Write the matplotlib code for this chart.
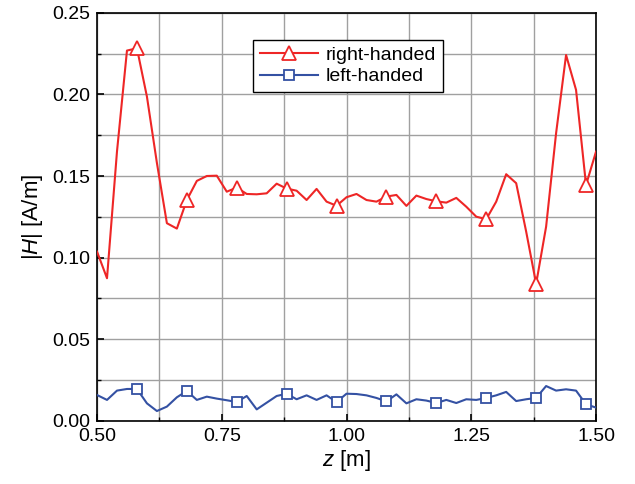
import matplotlib

matplotlib.use("Agg")

import matplotlib.pyplot as plt
import numpy as np
from matplotlib.ticker import FormatStrFormatter, MultipleLocator

plt.rcParams["font.family"] = ["Liberation Sans", "DejaVu Sans"]
plt.rcParams["mathtext.fontset"] = "custom"
plt.rcParams["mathtext.rm"] = "Liberation Sans"
plt.rcParams["mathtext.it"] = "Liberation Sans:italic"

# sampled positions along z, every 0.02 m
z = np.round(np.arange(0.50, 1.5001, 0.02), 2)

right_handed = [
    0.1037, 0.0874, 0.165, 0.2268, 0.2282, 0.1986, 0.158, 0.1211, 0.1178, 0.1353,
    0.1470, 0.1500, 0.1502, 0.1404, 0.1429, 0.1390, 0.1388, 0.1394, 0.1453, 0.1423,
    0.1410, 0.1353, 0.1421, 0.1343, 0.1318, 0.1370, 0.1390, 0.1353, 0.1343, 0.1374,
    0.1384, 0.1317, 0.1380, 0.1359, 0.1345, 0.1337, 0.1366, 0.1312, 0.1251, 0.1235,
    0.1343, 0.1511, 0.1456, 0.116, 0.0840, 0.119, 0.1762, 0.2241, 0.2027, 0.1445,
    0.1649,
]

left_handed = [
    0.0159, 0.0129, 0.0186, 0.0196, 0.0196, 0.0108, 0.0061, 0.0088, 0.0145, 0.0184,
    0.0129, 0.0149, 0.0137, 0.0127, 0.0116, 0.0153, 0.0071, 0.0112, 0.0153, 0.0167,
    0.0133, 0.0157, 0.0129, 0.0157, 0.0116, 0.0167, 0.0165, 0.0157, 0.0141, 0.0120,
    0.0163, 0.0108, 0.0133, 0.0125, 0.0110, 0.0129, 0.0110, 0.0133, 0.0129, 0.0141,
    0.0157, 0.0178, 0.0122, 0.0133, 0.0141, 0.0214, 0.0186, 0.0194, 0.0186, 0.0102,
    0.0082,
]

RED = "#ee2626"
BLUE = "#3451a3"

fig = plt.figure(figsize=(6.35, 4.84), dpi=100)
ax = fig.add_axes([0.1528, 0.1302, 0.7858, 0.8436])

ax.plot(z, right_handed, color=RED, linewidth=1.5, marker="^", markersize=10,
        markerfacecolor="white", markeredgecolor=RED, markeredgewidth=1.3,
        markevery=(4, 5), label="right-handed", zorder=3)
ax.plot(z, left_handed, color=BLUE, linewidth=1.5, marker="s", markersize=7.5,
        markerfacecolor="white", markeredgecolor=BLUE, markeredgewidth=1.3,
        markevery=(4, 5), label="left-handed", zorder=3)

ax.set_xlim(0.5, 1.5)
ax.set_ylim(0.0, 0.25)
ax.xaxis.set_major_locator(MultipleLocator(0.25))
ax.xaxis.set_minor_locator(MultipleLocator(0.125))
ax.yaxis.set_major_locator(MultipleLocator(0.05))
ax.yaxis.set_minor_locator(MultipleLocator(0.025))
ax.xaxis.set_major_formatter(FormatStrFormatter("%.2f"))
ax.yaxis.set_major_formatter(FormatStrFormatter("%.2f"))

ax.grid(True, which="both", color="#a0a0a0", linewidth=1.0, zorder=0)
ax.set_axisbelow(True)
ax.tick_params(which="both", direction="in", top=False, right=False, labelsize=14)
ax.tick_params(which="major", length=5, width=1.2, pad=5)
ax.tick_params(which="minor", length=3, width=1.0)
for spine in ax.spines.values():
    spine.set_linewidth(1.2)

ax.set_xlabel(r"$\mathit{z}$ [m]", fontsize=16, labelpad=2)
ax.set_ylabel(r"|$\mathit{H}$| [A/m]", fontsize=16, labelpad=5)

leg = ax.legend(loc="upper center", bbox_to_anchor=(0.503, 0.958), fontsize=14,
                handlelength=3.0, handletextpad=0.4, fancybox=False, framealpha=1.0,
                edgecolor="black", borderpad=0.35, labelspacing=0.2)
leg.get_frame().set_linewidth(1.0)

fig.savefig("out.png", dpi=100)
